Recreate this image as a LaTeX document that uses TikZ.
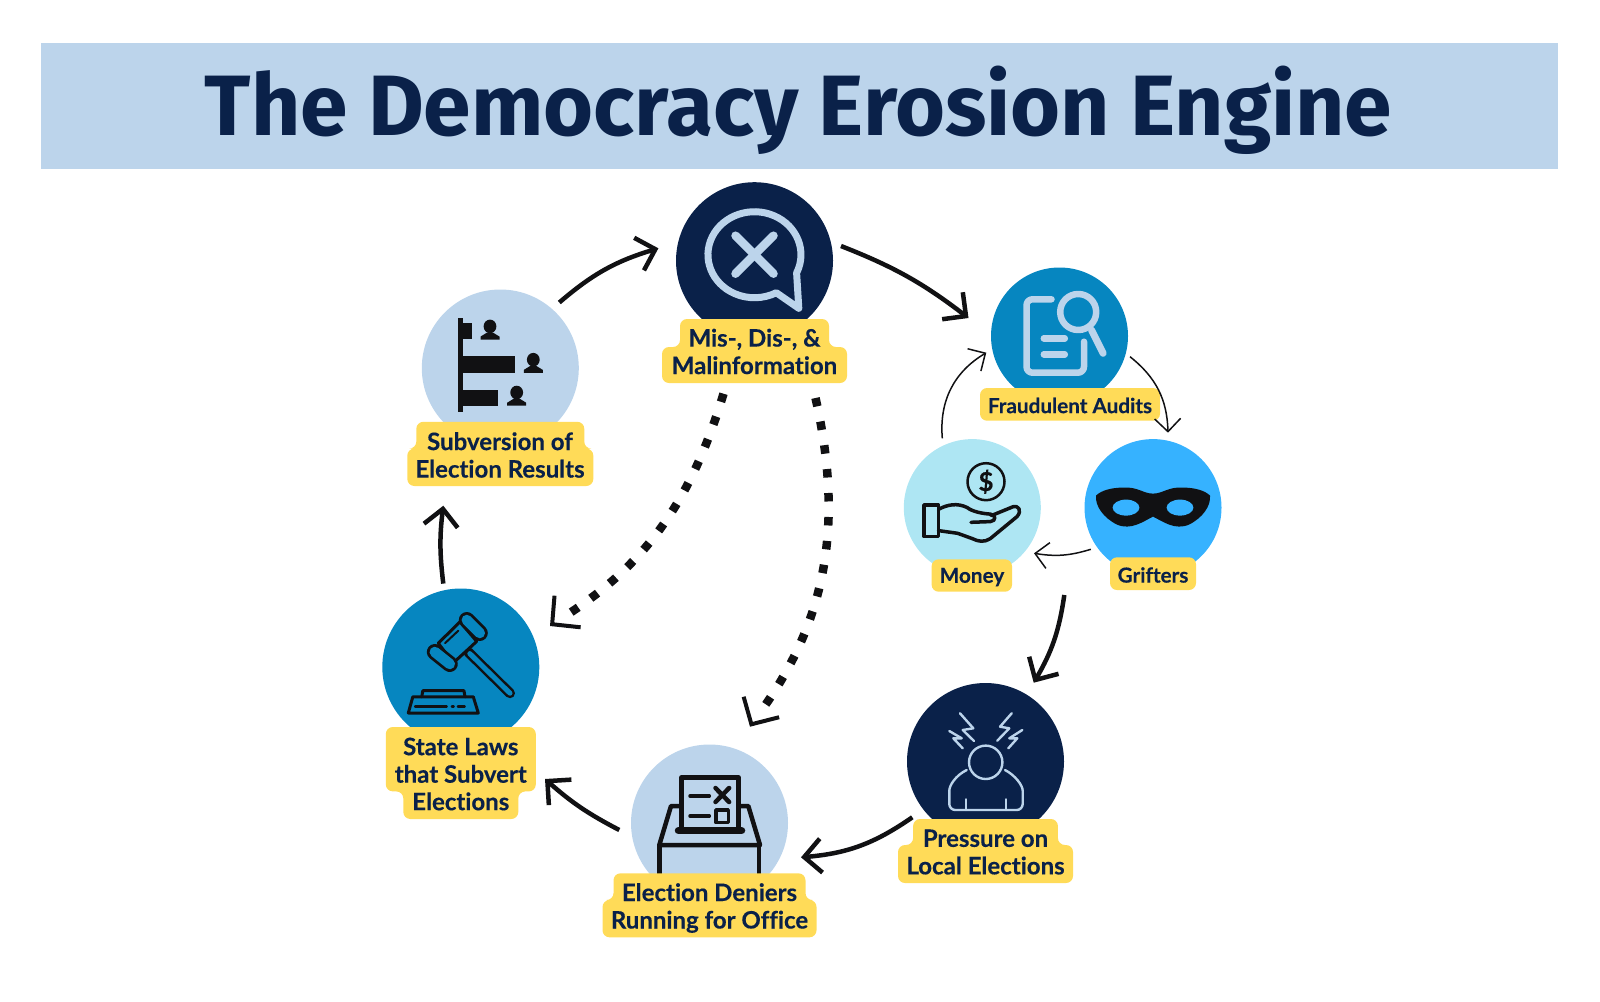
\documentclass[tikz,border=0pt]{standalone}
\usepackage{xcolor}
\usepackage{fontspec}
\setmainfont{Lato}[BoldFeatures={FakeBold=0.3},Ligatures=NoCommon]
\newfontfamily\headfont{Fira Sans}
\usetikzlibrary{arrows.meta,calc}
\definecolor{navy}{RGB}{10,33,73}
\definecolor{paleblue}{RGB}{188,212,235}
\definecolor{midblue}{RGB}{6,134,192}
\definecolor{skyblue}{RGB}{54,178,255}
\definecolor{aqua}{RGB}{174,230,243}
\definecolor{tagyellow}{RGB}{255,219,88}
\definecolor{inkblack}{RGB}{17,17,19}
\newcommand{\tagback}[6]{\fill[tagyellow,rounded corners=7pt]
  (#1-#5,#2) -- (#1+#5,#2) -- (#1+#5,#3) -- (#1+#6,#3) -- (#1+#6,#4) -- (#1-#6,#4) -- (#1-#6,#3) -- (#1-#5,#3) -- cycle;}
\begin{document}
\begin{tikzpicture}[
  x=1pt, y=-1pt,
  bigdisc/.style={circle, inner sep=0pt, minimum size=157pt},
  smalldisc/.style={circle, inner sep=0pt, minimum size=137pt},
  tag/.style={font=\fontsize{24}{27.5}\selectfont\bfseries, text=navy, align=center, inner sep=0pt},
  smalltag/.style={tag, font=\fontsize{20.7}{24}\selectfont\bfseries},
  flow/.style={line width=4.5pt, inkblack, -{Straight Barb[length=17pt,width=34pt]}},
  thinflow/.style={line width=1.5pt, inkblack, -{Straight Barb[length=13pt,width=26pt]}},
  dots/.style={line width=8.5pt, inkblack, dash pattern=on 8.5pt off 15.5pt, shorten >=22pt},
  dotend/.style={line width=4pt, inkblack, -{Straight Barb[length=20pt,width=41pt]}},
  icon/.style={line width=3pt, line join=round, line cap=round}
]
  \useasboundingbox (0,0) rectangle (1600,1001);
  \node[fill=paleblue, minimum width=1517pt, minimum height=126pt, inner sep=0pt] (title) at (799.5,106) {};
  \node[font=\headfont\fontsize{85.7}{85.7}\selectfont\bfseries, text=navy, inner sep=0pt] (titletext) at (798.5,110.5) {The Democracy Erosion Engine};

  \node[bigdisc,fill=navy](misinfo) at (754.5,260.7){};
  \node[smalldisc,fill=midblue](audits) at (1059.5,336){};
  \node[smalldisc,fill=aqua](money) at (972.3,507.6){};
  \node[smalldisc,fill=skyblue](grifters) at (1153,507.6){};
  \node[bigdisc,fill=navy](pressure) at (985.5,761.5){};
  \node[bigdisc,fill=paleblue](deniers) at (709.5,823){};
  \node[bigdisc,fill=midblue](laws) at (460.8,667){};
  \node[bigdisc,fill=paleblue](subversion) at (500.3,368){};

  \begin{scope}[shift={(misinfo.center)}, icon, draw=paleblue]
    \draw[line width=7pt] (42.1,12.2) arc[start angle=25,end angle=-298,x radius=46.5,y radius=43] -- (44.3,47.6) -- cycle;
    \draw[line width=8.5pt] (-19,-25) -- (19,13);
    \draw[line width=8.5pt] (19,-25) -- (-19,13);
  \end{scope}

  \begin{scope}[shift={(audits.center)}, icon, draw=paleblue, line width=6.5pt]
    \draw[rounded corners=6pt] (-8,-36.7) -- (-33,-36.7) -- (-33,36.7) -- (24.5,36.7) -- (24.5,5.7);
    \draw (-15.7,2.3) -- (5.3,2.3);
    \draw (-15.7,18.3) -- (5.3,18.3);
    \draw (18.7,-24) circle[radius=18];
    \draw[line width=7pt] (32,-6) -- (43.6,17.3);
  \end{scope}

  \begin{scope}[shift={(money.center)}, icon, draw=inkblack, line width=3.5pt]
    \draw[line width=2.5pt] (13.7,-25.9) circle[radius=18.5];
    \node[font=\fontsize{26}{26}\selectfont\bfseries, text=inkblack, inner sep=0pt] (coin) at (13.7,-25.9) {\$};
    \draw (-48.3,-2.6) rectangle (-33.8,29);
    \draw (-33.8,1.7) .. controls (-25,-3) and (-15,-5) .. (-5,0) .. controls (0,4) and (10,6) .. (18,6.5) .. controls (24,7) and (24,13.5) .. (18,14) -- (-1.3,14.7);
    \draw (19,8) -- (40.8,-0.9) .. controls (46,-2.5) and (50,3) .. (44.7,9) -- (18,31) .. controls (12,35) and (6,34) .. (0,31) -- (-14.7,25.7) -- (-33.8,23);
  \end{scope}

  \begin{scope}[shift={(grifters.center)}]
    \fill[inkblack] (0,-14) .. controls (10,-14) and (15,-21) .. (30,-20) .. controls (42,-20) and (52,-17) .. (57,-12) .. controls (58,-2) and (50,10) .. (36,17) .. controls (22,23) and (10,14) .. (0,9) .. controls (-10,14) and (-22,23) .. (-36,17) .. controls (-50,10) and (-58,-2) .. (-57,-12) .. controls (-52,-17) and (-42,-20) .. (-30,-20) .. controls (-15,-21) and (-10,-14) .. (0,-14) -- cycle;
    \fill[skyblue] (-27,0) ellipse[x radius=13.4,y radius=8];
    \fill[skyblue] (27,0) ellipse[x radius=13.4,y radius=8];
  \end{scope}

  \begin{scope}[shift={(pressure.center)}, icon, draw=paleblue, line width=2.4pt]
    \draw (0.2,0.8) circle[radius=16.7];
    \draw[rounded corners=6pt] (-18.8,8.5) .. controls (-30,14) and (-36.2,24) .. (-36.2,35.2) -- (-36.2,48.5) -- (37.2,48.5) -- (37.2,35.2) .. controls (37.2,24) and (30,14) .. (19.5,8.5);
    \draw (-19.8,37.8) -- (-19.8,48.5);
    \draw (20.5,37.8) -- (20.5,48.5);
    \draw (-25.5,-48.2) -- (-12.2,-33.2) -- (-22.8,-31.5) -- (-11.5,-20.5);
    \draw (-36.2,-30.5) -- (-23.8,-23.2) -- (-32.2,-23.2) -- (-22.8,-13.2);
    \draw (26.2,-48.2) -- (14.5,-34.8) -- (23.8,-33.2) -- (11.8,-20.8);
    \draw (36.8,-31.5) -- (23.8,-23.2) -- (31.8,-23.2) -- (22.8,-13.2);
  \end{scope}

  \begin{scope}[shift={(deniers.center)}, icon, draw=inkblack, line width=4.5pt]
    \draw[line cap=butt] (-27.8,7.7) -- (-27.8,-45.7) -- (28.8,-45.7) -- (28.8,7.7);
    \draw[line width=3.5pt] (-19.5,-27) -- (-0.2,-27);
    \draw[line width=3.5pt] (-19.5,-7) -- (-0.2,-7);
    \draw[line width=4.5pt] (6,-35) -- (19.6,-21);
    \draw[line width=4.5pt] (19.6,-35) -- (6,-21);
    \draw[line width=3.5pt] (6.5,-13) rectangle (18.8,-0.3);
    \draw[line width=7.5pt] (-31,7.7) -- (32,7.7);
    \draw (-27.8,-17) -- (-38.5,-17) -- (-50.2,22) -- (50.5,22) -- (38.8,-17) -- (28.8,-17);
    \draw[line cap=butt] (-50,22) -- (-50,55);
    \draw[line cap=butt] (49.5,22) -- (49.5,55);
  \end{scope}

  \begin{scope}[shift={(laws.center)}, icon, draw=inkblack, line width=3pt]
    \draw[line width=10pt] (7.5,-14.9) -- (49.2,26.2);
    \draw[midblue, line width=5pt] (9,-13.4) -- (49.2,26.2);
    \draw[fill=midblue] (-22.5,-23.8) -- (-0.8,-45.2) -- (15.9,-25.6) -- (-7.5,-4.1) -- cycle;
    \draw[line width=2pt] (-15.8,-23.8) -- (-2.5,-36.3);
    \draw[line width=16pt] (-26,-15) -- (-11,-3);
    \draw[midblue, line width=10.5pt] (-26,-15) -- (-11,-3);
    \draw[line width=16pt] (6,-47) -- (19,-34);
    \draw[midblue, line width=10.5pt] (6,-47) -- (19,-34);
    \draw (-52.5,46) -- (17.5,46) -- (12.5,29.8) -- (-48,29.8) -- cycle;
    \draw (-39,29.8) -- (-38,23.7) -- (3.2,23.7) -- (4.2,29.8);
    \draw[line width=2.2pt] (-45.8,39.5) -- (-14,39.5);
    \draw[line width=2.2pt] (-9,39.5) -- (-7,39.5);
    \draw[line width=2.2pt] (-3,39.5) -- (4,39.5);
  \end{scope}

  \begin{scope}[shift={(subversion.center)}]
    \fill[inkblack] (-42,-49.8) rectangle (-37.6,43.8);
    \fill[inkblack] (-37.6,-45) rectangle (-28.6,-29);
    \fill[inkblack] (-37.6,-11.6) rectangle (14.7,4.9);
    \fill[inkblack] (-37.6,21.6) rectangle (-2,37.7);
    \foreach \px/\py in {-10.3/-28.4, 33/4.9, 16.4/37.7} {
      \fill[inkblack] (\px,\py-13.2) ellipse[x radius=6.4,y radius=6.8];
      \fill[inkblack] (\px-9.5,\py) -- (\px-9.5,\py-3) -- (\px-3,\py-7) -- (\px+3,\py-7) -- (\px+9.5,\py-3) -- (\px+9.5,\py) -- cycle;
    }
  \end{scope}

  \tagback{754.5}{319}{347}{383}{74.5}{92.5}
  \tagback{1070}{388}{404}{420.7}{90}{90}
  \tagback{971.8}{559.3}{575}{591.7}{40.2}{40.2}
  \tagback{1153}{557.3}{574}{590}{43}{43}
  \tagback{500.3}{421.8}{448.6}{486}{84}{93}
  \tagback{460.8}{727}{791.4}{819}{75}{57.5}
  \tagback{709.5}{873.3}{900}{937.3}{96}{107}
  \tagback{985.5}{819}{845}{883}{72.4}{87.5}

  \node[tag](misinfotag) at (754.5,351.5){Mis-, Dis-, \&\\Malinformation};
  \node[smalltag](auditstag) at (1070,405.5){Fraudulent Audits};
  \node[smalltag](moneytag) at (972,577){Money};
  \node[smalltag](grifterstag) at (1153,575){Grifters};
  \node[tag](subversiontag) at (500,455){Subversion of\\Election Results};
  \node[tag](lawstag) at (460.8,774){State Laws\\that Subvert\\Elections};
  \node[tag](deniertag) at (709.5,908){Election Deniers\\Running for Office};
  \node[tag](pressuretag) at (985.5,852){Pressure on\\Local Elections};

  \draw[flow] ($(subversion)+(59,-65.5)$) to[bend left=12] ($(misinfo)+(-96.1,-12.4)$);
  \draw[flow] ($(misinfo)+(86.5,-14.7)$) to[bend left=8] ($(audits)+(-91,-18)$);
  \draw[flow] ($(grifters)+(-88.7,87.4)$) to[bend left=11] ($(pressure)+(48.2,-78.8)$);
  \draw[flow] ($(pressure)+(-73.2,55.8)$) to[bend left=15] ($(deniers)+(91.5,34.3)$);
  \draw[flow] ($(deniers)+(-90.2,7)$) to[bend left=7] ($(laws)+(84.2,112)$);
  \draw[flow] ($(laws)+(-17.5,-83.4)$) to[bend left=7] ($(subversion)+(-57,137.7)$);
  \draw[thinflow] ($(audits)+(70.5,20.7)$) to[bend left=25] ($(grifters)+(15,-74.9)$);
  \draw[thinflow] ($(grifters)+(-62.2,41.7)$) to[bend left=13] ($(money)+(61.7,45.7)$);
  \draw[thinflow] ($(money)+(-30,-69.3)$) to[bend left=32] ($(audits)+(-73.2,16.7)$);
  \draw[dots] ($(misinfo)+(-31,133)$) to[bend left=20] ($(laws)+(89.2,-41)$);
  \draw[dotend] ($(laws)+(91.5,-42.9)$) -- ($(laws)+(89.2,-41)$);
  \draw[dots] ($(misinfo)+(61,137.3)$) to[bend left=24] ($(deniers)+(40.5,-96.3)$);
  \draw[dotend] ($(deniers)+(42,-98.9)$) -- ($(deniers)+(40.5,-96.3)$);
\end{tikzpicture}
\end{document}
